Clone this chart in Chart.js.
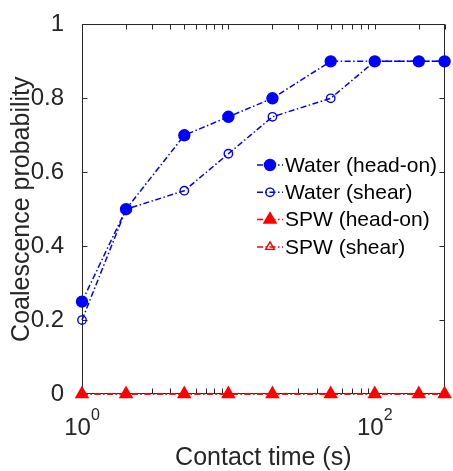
<!DOCTYPE html>
<html>
<head>
<meta charset="utf-8">
<script src="https://cdn.jsdelivr.net/npm/chart.js@4.4.0/dist/chart.umd.min.js"></script>
<style>
  html, body { margin: 0; padding: 0; background: #fff; }
  #wrap { width: 453px; height: 471px; }
</style>
</head>
<body>
<div id="wrap"><canvas id="myChart" width="453" height="471"></canvas></div>
<script>
// contact times (s)
var contactTime = [1, 2, 5, 10, 20, 50, 100, 200, 300];
var waterHeadOn = [0.25, 0.5, 0.7, 0.75, 0.8, 0.9, 0.9, 0.9, 0.9];
var waterShear = [0.2, 0.5, 0.55, 0.65, 0.75, 0.8, 0.9, 0.9, 0.9];
var spwHeadOn = [0, 0, 0, 0, 0, 0, 0, 0, 0];
var spwShear = [0, 0, 0, 0, 0, 0, 0, 0, 0];
var xLabelDecades = [0, 2];
var yTicks = [0, 0.2, 0.4, 0.6, 0.8, 1];

var FONT = "'Liberation Sans', Arial, sans-serif";
var INK = "#262626";
var dashDot = [6, 2.5, 1.5, 2.5];

function toPoints(vals) {
  var pts = [];
  for (var i = 0; i < vals.length; i++) {
    pts.push({ x: contactTime[i], y: vals[i] });
  }
  return pts;
}

function makeSet(label, vals, color, style, radius, filled) {
  return {
    label: label,
    data: toPoints(vals),
    borderColor: color,
    backgroundColor: color,
    borderWidth: 1.5,
    borderDash: dashDot,
    pointStyle: style,
    pointRadius: radius,
    pointHoverRadius: radius,
    pointBorderColor: color,
    pointBackgroundColor: filled ? color : "rgba(0,0,0,0)",
    pointBorderWidth: 1.4,
    fill: false,
    tension: 0,
    clip: false
  };
}

// axes box, inward ticks, log tick labels
var axesPlugin = {
  id: "axesPlugin",
  beforeDatasetsDraw: function(chart) {
    var ctx = chart.ctx;
    var a = chart.chartArea;
    var xs = chart.scales.x;
    var ys = chart.scales.y;
    var L = Math.round(a.left) + 0.5, R = Math.round(a.right) - 0.5;
    var T = Math.round(a.top) + 0.5, B = Math.round(a.bottom) - 0.5;
    ctx.save();
    ctx.strokeStyle = INK;
    ctx.lineWidth = 1;
    ctx.setLineDash([]);
    ctx.strokeRect(L, T, R - L, B - T);
    ctx.beginPath();
    var tl = 5;
    for (var i = 0; i < yTicks.length; i++) {
      var py = Math.round(ys.getPixelForValue(yTicks[i])) + 0.5;
      ctx.moveTo(L, py); ctx.lineTo(L + tl, py);
      ctx.moveTo(R, py); ctx.lineTo(R - tl, py);
    }
    for (var d = 0; d < 3; d++) {
      for (var m = 1; m < 10; m++) {
        var v = m * Math.pow(10, d);
        if (v > xs.max) break;
        var px = Math.round(xs.getPixelForValue(v)) + 0.5;
        ctx.moveTo(px, B); ctx.lineTo(px, B - tl);
        ctx.moveTo(px, T); ctx.lineTo(px, T + tl);
      }
    }
    ctx.stroke();
    ctx.restore();
  },
  afterDraw: function(chart) {
    var ctx = chart.ctx;
    var xs = chart.scales.x;
    ctx.save();
    ctx.fillStyle = INK;
    ctx.textBaseline = "alphabetic";
    for (var i = 0; i < xLabelDecades.length; i++) {
      var e = xLabelDecades[i];
      var cx = xs.getPixelForValue(Math.pow(10, e));
      ctx.font = "24px " + FONT;
      var wBase = ctx.measureText("10").width;
      ctx.font = "16px " + FONT;
      var wExp = ctx.measureText(String(e)).width;
      var x0 = cx - (wBase + wExp) / 2;
      ctx.font = "24px " + FONT;
      ctx.fillText("10", x0, 435);
      ctx.font = "16px " + FONT;
      ctx.fillText(String(e), x0 + wBase, 420);
    }
    ctx.restore();
  }
};

// legend inside the axes, no box
var legendPlugin = {
  id: "legendPlugin",
  afterDraw: function(chart) {
    var ctx = chart.ctx;
    var sets = chart.data.datasets;
    ctx.save();
    for (var i = 0; i < sets.length; i++) {
      var ds = sets[i];
      var y = 165 + i * 27.3;
      ctx.strokeStyle = ds.borderColor;
      ctx.lineWidth = ds.borderWidth;
      ctx.setLineDash(ds.borderDash);
      ctx.beginPath();
      ctx.moveTo(257, y);
      ctx.lineTo(283, y);
      ctx.stroke();
      ctx.setLineDash([]);
      ctx.fillStyle = ds.pointBackgroundColor;
      ctx.strokeStyle = ds.pointBorderColor;
      ctx.lineWidth = ds.pointBorderWidth;
      Chart.helpers.drawPoint(ctx, { pointStyle: ds.pointStyle, radius: ds.pointRadius, rotation: 0, borderWidth: ds.pointBorderWidth }, 270, y);
      ctx.fillStyle = "#000";
      ctx.font = "21px " + FONT;
      ctx.textBaseline = "middle";
      ctx.textAlign = "left";
      ctx.fillText(ds.label, 285, y + 1);
    }
    ctx.restore();
  }
};

var myChart = new Chart(document.getElementById("myChart"), {
  type: "line",
  data: {
    datasets: [
      makeSet("Water (head-on)", waterHeadOn, "#0000ff", "circle", 5.5, true),
      makeSet("Water (shear)", waterShear, "#0000ff", "circle", 4.2, false),
      makeSet("SPW (head-on)", spwHeadOn, "#ff0000", "triangle", 7, true),
      makeSet("SPW (shear)", spwShear, "#ff0000", "triangle", 5, false)
    ]
  },
  options: {
    responsive: false,
    animation: false,
    events: [],
    layout: { padding: { top: 16, right: 1, left: 0, bottom: 0 } },
    plugins: {
      legend: { display: false },
      tooltip: { enabled: false }
    },
    scales: {
      x: {
        type: "logarithmic",
        min: 1,
        max: 300,
        grid: { display: false },
        border: { display: false },
        ticks: { display: false },
        title: {
          display: true,
          text: "Contact time (s)",
          color: INK,
          font: { family: FONT, size: 25, lineHeight: 1 },
          padding: { top: 0, bottom: 0.5 }
        },
        afterFit: function(s) { s.height = 77; }
      },
      y: {
        min: 0,
        max: 1,
        grid: { display: false },
        border: { display: false },
        ticks: {
          stepSize: 0.2,
          color: INK,
          padding: 10,
          font: { family: FONT, size: 24 },
          callback: function(v) { return String(Math.round(v * 10) / 10); }
        },
        title: {
          display: true,
          text: "Coalescence probability",
          color: INK,
          font: { family: FONT, size: 25, lineHeight: 1 },
          padding: { top: 9.5, bottom: 0 }
        },
        afterFit: function(s) { s.width = 82; }
      }
    }
  },
  plugins: [axesPlugin, legendPlugin]
});
</script>
</body>
</html>
